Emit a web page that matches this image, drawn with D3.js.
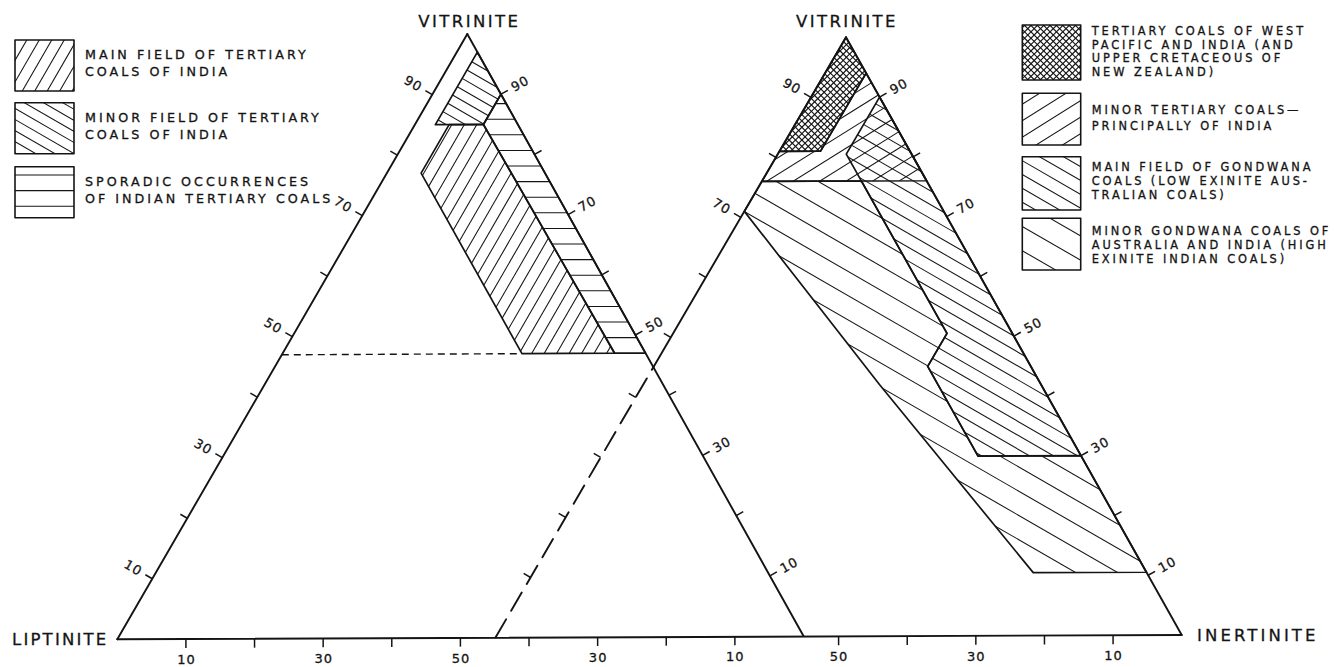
<!DOCTYPE html>
<html>
<head>
<meta charset="utf-8">
<script src="https://cdn.jsdelivr.net/npm/d3@7"></script>
<style>
  html, body { margin: 0; padding: 0; background: #fff; }
  svg { display: block; }
  text { font-family: "DejaVu Sans", "Liberation Sans", sans-serif; fill: #141414;
         stroke: #141414; stroke-width: 0.3; }
</style>
</head>
<body>
<svg id="chart" width="1334" height="667"></svg>
<script>
// ---------------------------------------------------------------
// Fields, as [vitrinite %, inertinite %] pairs (liptinite = rest)
// ---------------------------------------------------------------
// Left diagram: Tertiary coals of India
const leftMainField   = [[47, 35], [77, 5], [85, 5], [85, 10], [47, 48.5]];
const leftMinorField  = [[85, 3], [97, 3], [90, 10], [85, 10]];
const leftSporadic    = [[90, 10], [85, 10], [47, 48.5], [47, 53]];
const leftGuideLine   = [[47, 0], [47, 35]];

// Right diagram: Tertiary and Gondwana coals
const rightWestPacific    = [[100, 0], [94, 6], [81, 6], [81, 0]];
const rightMinorTertiary  = [[81, 0], [81, 6], [94, 6], [76, 24], [76, 0]];
const rightGondwanaMain   = [[90, 10], [80.5, 10], [50.5, 40], [45, 40], [30, 55], [30, 70]];
const rightGondwanaMinor  = [[76, 0], [76, 14.5], [50.5, 40], [45, 40], [30, 55], [30, 70],
                             [10.5, 89.5], [10.5, 73], [42, 34.5], [71, 0]];

// Scale ticks and labels (vitrinite % on the sloping sides)
const sideTicks            = [10, 20, 30, 40, 50, 60, 70, 80, 90];
const leftTriLeftLabels    = [10, 30, 50, 70, 90];
const leftTriRightLabels   = [10, 30, 50, 70, 90];
const rightTriLeftLabels   = [70, 90];
const rightTriRightLabels  = [10, 30, 50, 70, 90];

// Base scale: tick positions (% along the base) and printed values
const leftBaseTicks        = [10, 20, 30, 40, 50, 60, 70, 80, 90];
const leftBaseLabelAt      = [10, 30, 50, 70, 90];
const leftBaseLabelText    = ["10", "30", "50", "30", "10"];
const rightBaseTicks       = [50, 60, 70, 80, 90];
const rightBaseLabelAt     = [50, 70, 90];
const rightBaseLabelText   = ["50", "30", "10"];

// Legend texts
const leftLegendText = [
  ["MAIN FIELD OF TERTIARY", "COALS OF INDIA"],
  ["MINOR FIELD OF TERTIARY", "COALS OF INDIA"],
  ["SPORADIC OCCURRENCES", "OF INDIAN TERTIARY COALS"]
];
const rightLegendText = [
  ["TERTIARY COALS OF WEST", "PACIFIC AND INDIA (AND", "UPPER CRETACEOUS OF", "NEW ZEALAND)"],
  ["MINOR TERTIARY COALS\u2014", "PRINCIPALLY OF INDIA"],
  ["MAIN FIELD OF GONDWANA", "COALS (LOW EXINITE AUS-", "TRALIAN COALS)"],
  ["MINOR GONDWANA COALS OF", "AUSTRALIA AND INDIA (HIGH", "EXINITE INDIAN COALS)"]
];

// ---------------------------------------------------------------
// Drawing
// ---------------------------------------------------------------
const INK = "#141414";
const svg = d3.select("#chart");
const defs = svg.append("defs");
let clipCount = 0;

// corner positions of the two triangles (Liptinite, Inertinite, Vitrinite)
const leftCorners  = { L: [117.3, 639.3], I: [803.5, 636.0], V: [467.3, 34.0] };
const rightCorners = { L: [495.5, 637.5], I: [1181.7, 635.0], V: [846.0, 37.3] };

// ternary projection built on a linear percentage scale
function ternary(c) {
  const pct = d3.scaleLinear().domain([0, 100]).range([0, 1]);
  return ([v, i]) => {
    const a = pct(i), b = pct(v);
    return [c.L[0] + a * (c.I[0] - c.L[0]) + b * (c.V[0] - c.L[0]),
            c.L[1] + a * (c.I[1] - c.L[1]) + b * (c.V[1] - c.L[1])];
  };
}
const projL = ternary(leftCorners);
const projR = ternary(rightCorners);

// parallel hatch lines clipped to a polygon (pixel coordinates)
function hatch(parent, pts, angle, spacing, width, offset = 0) {
  const id = "hclip" + (clipCount++);
  defs.append("clipPath").attr("id", id)
    .append("polygon").attr("points", pts.map(p => p.join(",")).join(" "));
  const a = angle * Math.PI / 180;
  const d = [Math.cos(a), Math.sin(a)], n = [-Math.sin(a), Math.cos(a)];
  const pn = pts.map(p => p[0] * n[0] + p[1] * n[1]);
  const pd = pts.map(p => p[0] * d[0] + p[1] * d[1]);
  const n0 = d3.min(pn), n1 = d3.max(pn);
  const d0 = d3.min(pd) - 4, d1 = d3.max(pd) + 4;
  const lines = [];
  for (let c = Math.ceil((n0 - offset) / spacing) * spacing + offset; c <= n1; c += spacing) {
    lines.push([[c * n[0] + d0 * d[0], c * n[1] + d0 * d[1]],
                [c * n[0] + d1 * d[0], c * n[1] + d1 * d[1]]]);
  }
  parent.append("g").attr("clip-path", `url(#${id})`)
    .selectAll("line").data(lines).join("line")
    .attr("x1", l => l[0][0]).attr("y1", l => l[0][1])
    .attr("x2", l => l[1][0]).attr("y2", l => l[1][1])
    .attr("stroke", INK).attr("stroke-width", width);
}

function outline(parent, pts, width = 1.7) {
  parent.append("polygon")
    .attr("points", pts.map(p => p.join(",")).join(" "))
    .attr("fill", "none").attr("stroke", INK)
    .attr("stroke-width", width).attr("stroke-linejoin", "round");
}

const line = d3.line();
const gFields = svg.append("g");
const gFrame = svg.append("g");
const gText = svg.append("g");

// ---- hatch styles, shared by fields and legend keys
const styles = {
  leftMain:      g => (pts) => hatch(g, pts, -60, 10.8, 1.05),
  leftMinor:     g => (pts) => hatch(g, pts, 30, 9.6, 1.05),
  leftSporadic:  g => (pts, off) => hatch(g, pts, 0, 15.6, 1.05, off),
  westPacific:   g => (pts) => { hatch(g, pts, 45, 4.5, 1.15); hatch(g, pts, -45, 4.5, 1.15); },
  minorTertiary: g => (pts) => hatch(g, pts, -32, 14, 1.05),
  gondwanaMain:  g => (pts) => hatch(g, pts, 30, 12, 1.05),
  gondwanaMinor: g => (pts) => hatch(g, pts, 30, 21, 1.05)
};

// ---- left diagram fields
const lMain = leftMainField.map(projL);
const lMinor = leftMinorField.map(projL);
const lSpor = leftSporadic.map(projL);
styles.leftMain(gFields)(lMain);
styles.leftMinor(gFields)(lMinor);
styles.leftSporadic(gFields)(lSpor, projL(leftSporadic[2])[1]);
[lMain, lMinor, lSpor].forEach(p => outline(gFields, p));
gFields.append("path").attr("d", line(leftGuideLine.map(projL)))
  .attr("fill", "none").attr("stroke", INK).attr("stroke-width", 1.4)
  .attr("stroke-dasharray", "7,5");

// ---- right diagram fields
const rMinorG = rightGondwanaMinor.map(projR);
const rMainG = rightGondwanaMain.map(projR);
const rMinorT = rightMinorTertiary.map(projR);
const rWest = rightWestPacific.map(projR);
styles.gondwanaMinor(gFields)(rMinorG);
styles.gondwanaMain(gFields)(rMainG);
styles.minorTertiary(gFields)(rMinorT);
styles.westPacific(gFields)(rWest);
[rMinorG, rMainG, rMinorT, rWest].forEach(p => outline(gFields, p));

// ---- triangle frames
function segment(a, b, dash) {
  const p = gFrame.append("path").attr("d", line([a, b]))
    .attr("fill", "none").attr("stroke", INK).attr("stroke-width", 1.9)
    .attr("stroke-linecap", "round");
  if (dash) p.attr("stroke-dasharray", dash);
}
function intersect(p1, p2, p3, p4) {
  const d = (p1[0] - p2[0]) * (p3[1] - p4[1]) - (p1[1] - p2[1]) * (p3[0] - p4[0]);
  const t = ((p1[0] - p3[0]) * (p3[1] - p4[1]) - (p1[1] - p3[1]) * (p3[0] - p4[0])) / d;
  return [p1[0] + t * (p2[0] - p1[0]), p1[1] + t * (p2[1] - p1[1])];
}
segment(leftCorners.L, leftCorners.V);
segment(leftCorners.V, leftCorners.I);
segment(leftCorners.L, rightCorners.I);
segment(rightCorners.V, rightCorners.I);
const cross = intersect(rightCorners.L, rightCorners.V, leftCorners.V, leftCorners.I);
segment(cross, rightCorners.V);
segment(rightCorners.L, cross, "21,10");

// ---- side scales
function sideScale(proj, corners, side, ticks, labels) {
  const at = side === "left" ? v => proj([v, 0]) : v => proj([v, 100 - v]);
  const a = at(0), b = at(100);
  const len = Math.hypot(b[0] - a[0], b[1] - a[1]);
  const e = [(b[0] - a[0]) / len, (b[1] - a[1]) / len];
  let n = [-e[1], e[0]];
  const cx = (corners.L[0] + corners.I[0] + corners.V[0]) / 3;
  const cy = (corners.L[1] + corners.I[1] + corners.V[1]) / 3;
  if (n[0] * (a[0] - cx) + n[1] * (a[1] - cy) < 0) n = [-n[0], -n[1]];
  gFrame.append("g").selectAll("line").data(ticks).join("line")
    .attr("x1", v => at(v)[0]).attr("y1", v => at(v)[1])
    .attr("x2", v => at(v)[0] + n[0] * 8).attr("y2", v => at(v)[1] + n[1] * 8)
    .attr("stroke", INK).attr("stroke-width", 1.5);
  const rot = side === "left" ? Math.atan2(-n[1], -n[0]) : Math.atan2(n[1], n[0]);
  gText.append("g").selectAll("text").data(labels).join("text")
    .attr("transform", v => {
      const p = at(v);
      return `translate(${p[0] + n[0] * 22},${p[1] + n[1] * 22}) rotate(${rot * 180 / Math.PI})`;
    })
    .attr("text-anchor", "middle").attr("dominant-baseline", "central")
    .attr("font-size", 13).attr("letter-spacing", 1)
    .text(v => v);
}
sideScale(projL, leftCorners, "left", sideTicks, leftTriLeftLabels);
sideScale(projL, leftCorners, "right", sideTicks, leftTriRightLabels);
sideScale(projR, rightCorners, "left", sideTicks, rightTriLeftLabels);
sideScale(projR, rightCorners, "right", sideTicks, rightTriRightLabels);

// ---- base scales
function baseScale(proj, ticks, labelAt, labelText) {
  const at = t => proj([0, t]);
  gFrame.append("g").selectAll("line").data(ticks).join("line")
    .attr("x1", t => at(t)[0]).attr("y1", t => at(t)[1])
    .attr("x2", t => at(t)[0]).attr("y2", t => at(t)[1] + 9)
    .attr("stroke", INK).attr("stroke-width", 1.5);
  gText.append("g").selectAll("text").data(labelAt).join("text")
    .attr("x", t => at(t)[0] + 0.5).attr("y", t => at(t)[1] + 25)
    .attr("text-anchor", "middle").attr("font-size", 13).attr("letter-spacing", 1)
    .text((t, k) => labelText[k]);
}
baseScale(projL, leftBaseTicks, leftBaseLabelAt, leftBaseLabelText);
baseScale(projR, rightBaseTicks, rightBaseLabelAt, rightBaseLabelText);

// ---- corner names
function cornerName(x, y, text, anchor, spacing) {
  gText.append("text").attr("x", x).attr("y", y).attr("text-anchor", anchor)
    .attr("font-size", 16.5).attr("letter-spacing", spacing).text(text);
}
cornerName(leftCorners.V[0] + 2, 27, "VITRINITE", "middle", 2.4);
cornerName(rightCorners.V[0] + 1, 27, "VITRINITE", "middle", 2.4);
cornerName(12, leftCorners.L[1] + 6, "LIPTINITE", "start", 2.2);
cornerName(1197, rightCorners.I[1] + 6, "INERTINITE", "start", 3.1);

// ---- legends
function legendKey(x, y, w, h, draw) {
  const pts = [[x, y], [x + w, y], [x + w, y + h], [x, y + h]];
  draw(pts);
  outline(gFrame, pts, 1.6);
}
function legendText(x, y0, step, lines, size, spacing) {
  gText.append("g").selectAll("text").data(lines).join("text")
    .attr("x", x).attr("y", (d, k) => y0 + k * step)
    .attr("font-size", size).attr("letter-spacing", spacing).text(d => d);
}

const lgL = svg.append("g");
const leftKeyTops = [40, 102.7, 166.7];
legendKey(15, leftKeyTops[0], 59, 51, styles.leftMain(lgL));
legendKey(15, leftKeyTops[1], 59, 51, styles.leftMinor(lgL));
legendKey(15, leftKeyTops[2], 59, 51, pts => styles.leftSporadic(lgL)(pts, 175));
leftLegendText.forEach((lines, k) =>
  legendText(85, leftKeyTops[k] + 19.3, 17, lines, 12.7, 3.0));

const lgR = svg.append("g");
const rightKeys = [[25, 55], [93.3, 51.7], [156.7, 53.3], [218.3, 51.7]];
const rightTextStart = [35, 114, 171, 234.7];
const rightTextStep = [13.7, 16, 14, 14];
legendKey(1022.3, rightKeys[0][0], 58.4, rightKeys[0][1], styles.westPacific(lgR));
legendKey(1022.3, rightKeys[1][0], 58.4, rightKeys[1][1], styles.minorTertiary(lgR));
legendKey(1022.3, rightKeys[2][0], 58.4, rightKeys[2][1], styles.gondwanaMain(lgR));
legendKey(1022.3, rightKeys[3][0], 58.4, rightKeys[3][1], styles.gondwanaMinor(lgR));
rightLegendText.forEach((lines, k) =>
  legendText(1091.7, rightTextStart[k], rightTextStep[k], lines, 11.4, 2.9));
</script>
</body>
</html>
